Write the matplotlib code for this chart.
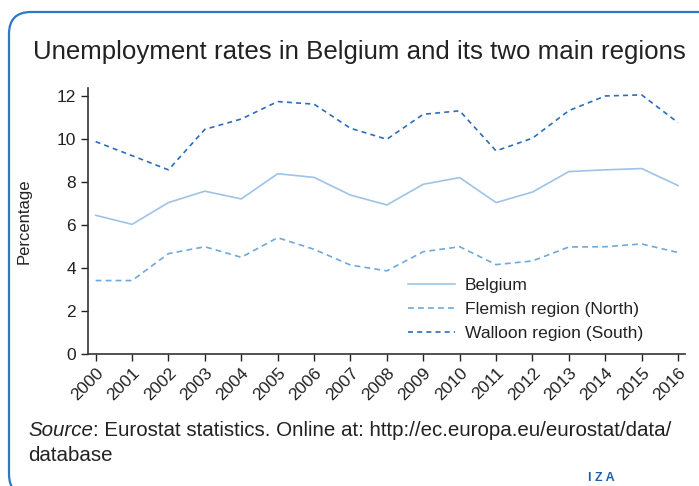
import matplotlib.pyplot as plt
from matplotlib.patches import FancyBboxPatch

years = list(range(2000, 2017))
belgium = [6.44, 6.02, 7.03, 7.56, 7.20, 8.37, 8.20, 7.38, 6.92, 7.88, 8.19,
           7.03, 7.52, 8.47, 8.55, 8.61, 7.82]
flemish = [3.41, 3.41, 4.66, 4.98, 4.49, 5.40, 4.86, 4.13, 3.86, 4.75, 4.98,
           4.15, 4.32, 4.97, 4.98, 5.11, 4.71]
walloon = [9.86, 9.21, 8.55, 10.43, 10.91, 11.72, 11.60, 10.48, 9.97, 11.13, 11.29,
           9.43, 10.02, 11.30, 11.98, 12.03, 10.74]
labels = ["Belgium", "Flemish region (North)", "Walloon region (South)"]

plt.rcParams['font.family'] = ['Liberation Sans', 'DejaVu Sans']
txt = '#222222'

fig = plt.figure(figsize=(6.99, 4.86), dpi=100)

# background axes in pixel units for the rounded frame
bg = fig.add_axes([0, 0, 1, 1], zorder=-1)
bg.set_xlim(0, 699)
bg.set_ylim(0, 486)
bg.axis('off')
bg.add_patch(FancyBboxPatch((9, -10), 720, 484, boxstyle="round,pad=0,rounding_size=22",
                            fill=False, edgecolor='#2b78c6', linewidth=1.6))

fig.text(33 / 699, 1 - 52 / 486, "Unemployment rates in Belgium and its two main regions",
         fontsize=18.6, color=txt, va='center', ha='left')

ax = fig.add_axes([88 / 699, 1 - 354 / 486, (685 - 88) / 699, (354 - 88) / 486])
ax.patch.set_alpha(0)
ax.plot(years, belgium, color='#9ec3e6', lw=1.2, label=labels[0])
ax.plot(years, flemish, color='#6fa8dc', lw=1.2, ls=(0, (3.5, 2.5)), label=labels[1])
ax.plot(years, walloon, color='#2a6ebb', lw=1.2, ls=(0, (3, 2.5)), label=labels[2])

ax.set_xlim(1999.79, 2016.19)
ax.set_ylim(0, 12.35)
ax.set_xticks(years)
ax.set_xticklabels([str(y) for y in years], rotation=45, ha='right', va='top',
                   rotation_mode='anchor')
ax.set_yticks([0, 2, 4, 6, 8, 10, 12])
ax.tick_params(axis='both', labelsize=12.5, colors=txt, length=5, width=1, direction='out')
ax.tick_params(axis='x', pad=3)
for s in ['top', 'right']:
    ax.spines[s].set_visible(False)
for s in ['left', 'bottom']:
    ax.spines[s].set_color('#333333')
    ax.spines[s].set_linewidth(1.2)
ax.set_ylabel("Percentage", fontsize=12, color=txt)
ax.yaxis.set_label_coords(-0.095, 0.5)

leg = ax.legend(loc='upper left', bbox_to_anchor=(408 / 699, 1 - 278 / 486),
                bbox_transform=fig.transFigure, frameon=False, fontsize=12.6,
                handlelength=2.7, handletextpad=0.55, labelspacing=0.5,
                borderaxespad=0, borderpad=0)
for t in leg.get_texts():
    t.set_color(txt)

src = fig.text(28 / 699, 1 - 430 / 486, "Source", fontsize=14.8, style='italic',
               color=txt, va='center', ha='left')
fig.canvas.draw()
ax.annotate(": Eurostat statistics. Online at: http://ec.europa.eu/eurostat/data/",
            xy=(1, 0.5), xycoords=src, va='center', ha='left', fontsize=14.8, color=txt)
fig.text(28 / 699, 1 - 455 / 486, "database", fontsize=14.8, color=txt,
         va='center', ha='left')

fig.text(601 / 699, 1 - 478 / 486, "I Z A", fontsize=9, fontweight='bold',
         color='#1f5fa8', va='center', ha='center')

fig.savefig("out.png", dpi=100)
